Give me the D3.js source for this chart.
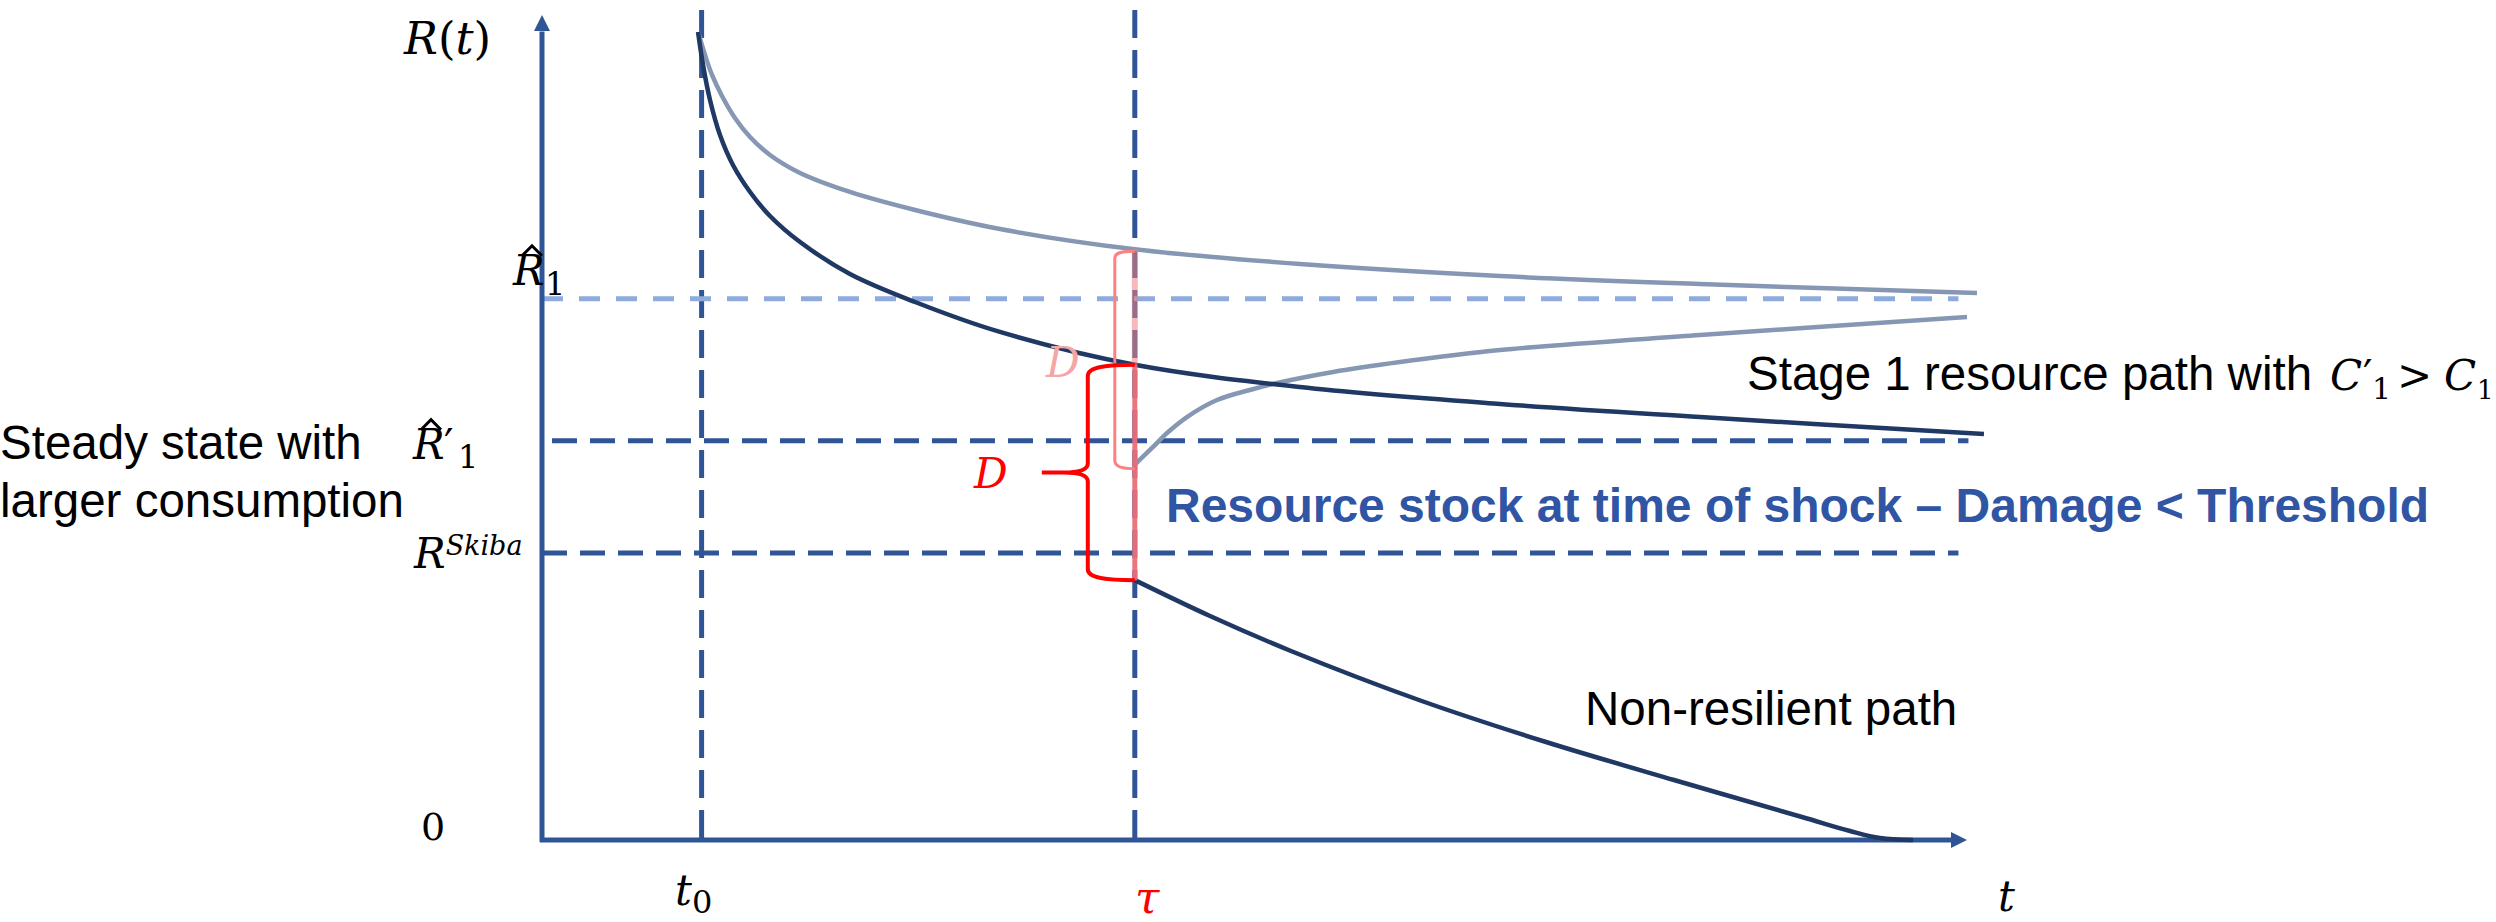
<!DOCTYPE html>
<html>
<head>
<meta charset="utf-8">
<script src="https://cdn.jsdelivr.net/npm/d3@7"></script>
<style>
  html, body { margin: 0; padding: 0; background: #fff; }
  svg { display: block; }
</style>
</head>
<body>
<div id="chart"></div>
<script>
// Time markers: start of stage 1 and the shock date tau
const startTime = 11.2;
const shockTime = 41.6;
const damage = 26.1;

// Steady-state levels on the R(t) axis
const levelNames = ["R1hat", "R1hatPrime", "Skiba"];
const levelValues = [65.6, 48.4, 34.8];

// Resource paths, as [t, R]
const stage1Path = [
  [10.95, 97.94], [11.3, 93.94], [11.79, 89.7], [12.49, 85.45], [13.4, 81.82],
  [14.6, 78.55], [16.0, 75.64], [18.11, 72.48], [21.61, 68.61], [26.18, 65.21],
  [32.14, 61.58], [41.6, 57.6], [53.19, 54.91], [67.23, 52.85], [81.26, 51.27],
  [101.19, 49.21]
];
const upperPath = [
  [10.95, 97.94], [11.44, 95.15], [11.93, 92.73], [12.63, 90.18], [13.54, 87.52],
  [14.6, 85.21], [16.0, 83.03], [18.11, 80.85], [21.61, 78.55], [26.18, 76.36],
  [32.14, 74.06], [41.6, 71.6], [53.19, 69.82], [67.23, 68.36], [81.26, 67.39],
  [100.7, 66.3]
];
const recoveryPath = [
  [41.6, 45.5], [42.88, 47.64], [43.86, 49.33], [45.26, 51.27], [47.37, 53.33],
  [49.68, 54.55], [51.58, 55.39], [55.51, 56.73], [60.21, 57.94], [67.23, 59.39],
  [81.26, 61.21], [100.0, 63.39]
];
const nonResilientPath = [
  [41.6, 31.5], [46.88, 27.15], [52.56, 22.91], [61.54, 16.97], [70.46, 11.88],
  [79.44, 7.27], [88.42, 2.79], [91.79, 1.09], [93.89, 0.24], [96.21, 0]
];

const width = 2496;
const height = 922;
const axisBlue = "#2f5597";
const lightDash = "#8faadc";
const navy = "#203864";
const greyBlue = "#8697b3";
const sans = "'Liberation Sans', Arial, sans-serif";
const serif = "'DejaVu Serif', serif";

const svg = d3.select("#chart")
  .append("svg")
  .attr("width", width)
  .attr("height", height);

// Scales
const x = d3.scaleLinear().domain([0, 100]).range([542, 1967]);
const y = d3.scaleLinear().domain([0, 100]).range([840, 15]);

const line = d3.line()
  .x((d) => x(d[0]))
  .y((d) => y(d[1]))
  .curve(d3.curveCatmullRom.alpha(0.5));

// Vertical dashed lines at t0 and tau
svg.selectAll(".vdash")
  .data([startTime, shockTime])
  .enter()
  .append("line")
  .attr("x1", (d) => x(d))
  .attr("x2", (d) => x(d))
  .attr("y1", y(100.6))
  .attr("y2", y(0))
  .attr("stroke", axisBlue)
  .attr("stroke-width", 5)
  .attr("stroke-dasharray", "28,12");

// Horizontal dashed levels
const levelStyle = {
  R1hat: { color: lightDash, dash: "21,16", start: 0, end: 99.4 },
  R1hatPrime: { color: axisBlue, dash: "25,13", start: 0.7, end: 100.1 },
  Skiba: { color: axisBlue, dash: "25,13", start: 0, end: 99.4 }
};

svg.selectAll(".hdash")
  .data(levelNames)
  .enter()
  .append("line")
  .attr("x1", (d) => x(levelStyle[d].start))
  .attr("x2", (d) => x(levelStyle[d].end))
  .attr("y1", (d, i) => y(levelValues[i]))
  .attr("y2", (d, i) => y(levelValues[i]))
  .attr("stroke", (d) => levelStyle[d].color)
  .attr("stroke-width", 5)
  .attr("stroke-dasharray", (d) => levelStyle[d].dash);

// Axes with arrow heads
svg.append("line")
  .attr("x1", x(0)).attr("x2", x(0))
  .attr("y1", y(0) + 2).attr("y2", y(98))
  .attr("stroke", axisBlue).attr("stroke-width", 5);
svg.append("line")
  .attr("x1", x(0) - 2).attr("x2", x(99))
  .attr("y1", y(0)).attr("y2", y(0))
  .attr("stroke", axisBlue).attr("stroke-width", 5);
svg.append("path")
  .attr("d", `M${x(0)},${y(100)} L${x(0) - 8},${y(100) + 16} L${x(0) + 8},${y(100) + 16} Z`)
  .attr("fill", axisBlue);
svg.append("path")
  .attr("d", `M${x(100)},${y(0)} L${x(100) - 16},${y(0) - 8} L${x(100) - 16},${y(0) + 8} Z`)
  .attr("fill", axisBlue);

// Resource paths
const paths = [
  { data: upperPath, color: greyBlue, w: 4.5 },
  { data: recoveryPath, color: greyBlue, w: 4.5 },
  { data: stage1Path, color: navy, w: 4.5 },
  { data: nonResilientPath, color: navy, w: 4.5 }
];
svg.selectAll(".path")
  .data(paths)
  .enter()
  .append("path")
  .attr("d", (d) => line(d.data))
  .attr("fill", "none")
  .attr("stroke", (d) => d.color)
  .attr("stroke-width", (d) => d.w);

// Shock overlay on the tau line
const x0 = x(shockTime);
const highPre = y(71.6);
const lowPre = y(57.6);
const highPost = y(71.6 - damage);
const lowPost = y(57.6 - damage);

svg.append("line")
  .attr("x1", x0).attr("x2", x0)
  .attr("y1", highPre).attr("y2", lowPre)
  .attr("stroke", "#f08080").attr("stroke-width", 6).attr("opacity", 0.55);
svg.append("line")
  .attr("x1", x0).attr("x2", x0)
  .attr("y1", lowPre).attr("y2", lowPost)
  .attr("stroke", "#ea6f78").attr("stroke-width", 5).attr("opacity", 0.95);

// Pink bracket (damage on the upper path)
const xp = x0 - 20;
svg.append("path")
  .attr("d", `M${x0},${highPre + 2} C${x0 - 12},${highPre + 2} ${xp},${highPre + 3} ${xp},${highPre + 9}
    L${xp},${highPost - 4} C${xp},${highPost + 2} ${x0 - 12},${highPost + 4} ${x0},${highPost + 4}`)
  .attr("fill", "none")
  .attr("stroke", "#ff8080")
  .attr("stroke-width", 3);

// Red curly brace (damage on the stage 1 path)
const xb = x0 - 47;
const xt = x0 - 93;
const ym = (lowPre + lowPost) / 2;
svg.append("path")
  .attr("d", `M${x0},${lowPre} C${x0 - 28},${lowPre} ${xb},${lowPre + 2} ${xb},${lowPre + 11}
    L${xb},${ym - 9} C${xb},${ym - 2} ${xb - 12},${ym} ${xt + 22},${ym} L${xt},${ym}
    M${xt + 22},${ym} C${xb - 12},${ym} ${xb},${ym + 2} ${xb},${ym + 9}
    L${xb},${lowPost - 11} C${xb},${lowPost - 2} ${x0 - 28},${lowPost} ${x0},${lowPost}`)
  .attr("fill", "none")
  .attr("stroke", "#ff0000")
  .attr("stroke-width", 4);

// Math labels
function mathText(parts, px, py, size, color) {
  const t = svg.append("text")
    .attr("x", px).attr("y", py)
    .attr("font-family", serif)
    .attr("font-size", size)
    .attr("fill", color || "#000");
  parts.forEach((p) => {
    const s = t.append("tspan").text(p.text)
      .attr("font-style", p.upright ? "normal" : "italic");
    if (p.size) s.attr("font-size", p.size);
    if (p.dy) s.attr("dy", p.dy);
    if (p.x !== undefined) s.attr("x", p.x);
  });
  return t;
}
function hat(cx, by) {
  svg.append("path")
    .attr("d", `M${cx - 10},${by} L${cx},${by - 10} L${cx + 10},${by}`)
    .attr("fill", "none").attr("stroke", "#000").attr("stroke-width", 3);
}

mathText([{ text: "R" }, { text: "(", upright: true }, { text: "t" }, { text: ")", upright: true }], 404, 54, 45);

mathText([{ text: "R" }, { text: "1", upright: true, size: 32, dy: 10, x: 545 }], 513, y(levelValues[0]) - 14, 42);
hat(532, y(levelValues[0]) - 43);

mathText([{ text: "R" }, { text: "′", upright: true, x: 444 }, { text: "1", upright: true, size: 32, dy: 9, x: 458 }], 413, y(levelValues[1]) + 18, 42);
hat(431, y(levelValues[1]) - 11);

mathText([{ text: "R" }, { text: "Skiba", size: 27, dy: -13 }], 414, y(levelValues[2]) + 15, 42);

svg.append("text")
  .attr("x", 433).attr("y", y(0))
  .attr("text-anchor", "middle")
  .attr("font-family", serif).attr("font-size", 38)
  .text("0");

mathText([{ text: "t" }, { text: "0", upright: true, size: 32, dy: 8 }], 675, 905, 42);
mathText([{ text: "τ" }], 1135, 913, 44, "#ff0000");
mathText([{ text: "t" }], 1998, 911, 42);

mathText([{ text: "D" }], 1046, lowPre + 12, 42, "#f4a6a6");
mathText([{ text: "D" }], 974, ym + 16, 42, "#ff0000");

// Plain labels
svg.append("text")
  .attr("x", 0).attr("y", 459)
  .attr("font-family", sans).attr("font-size", 47.5)
  .text("Steady state with");
svg.append("text")
  .attr("x", 0).attr("y", 517)
  .attr("font-family", sans).attr("font-size", 47.5)
  .text("larger consumption");

svg.append("text")
  .attr("x", 1747).attr("y", 390)
  .attr("font-family", sans).attr("font-size", 47.5)
  .text("Stage 1 resource path with");
mathText([
  { text: "C" }, { text: "′", upright: true, x: 2363 },
  { text: "1", upright: true, size: 30, dy: 9, x: 2372 },
  { text: ">", upright: true, dy: -9, x: 2397 },
  { text: "C", x: 2444 }, { text: "1", upright: true, size: 26, dy: 9, x: 2477 }
], 2330, 390, 42);

svg.append("text")
  .attr("x", 1166).attr("y", 522)
  .attr("font-family", sans).attr("font-size", 48)
  .attr("font-weight", "bold")
  .attr("fill", "#2f55a4")
  .text("Resource stock at time of shock – Damage < Threshold");

svg.append("text")
  .attr("x", 1585).attr("y", 725)
  .attr("font-family", sans).attr("font-size", 47.5)
  .text("Non-resilient path");
</script>
</body>
</html>
